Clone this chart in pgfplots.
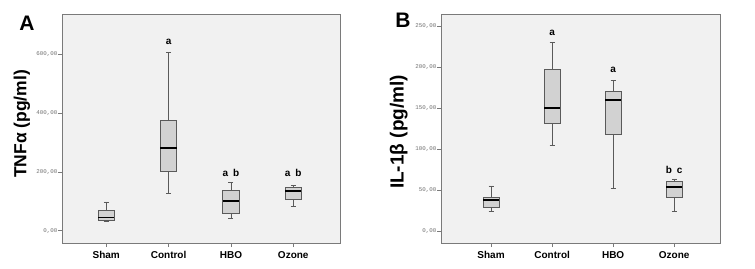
\documentclass[border=0pt]{standalone}
\usepackage{fontspec}
\setmainfont{Liberation Sans}
\newfontfamily\monofont{Liberation Mono}
\usepackage{pgfplots}
\pgfplotsset{compat=1.18}
\usepgfplotslibrary{statistics}

\definecolor{plotbg}{HTML}{F1F1F1}
\definecolor{boxfill}{HTML}{D2D2D2}
\definecolor{framegray}{HTML}{7A7A7A}
\definecolor{boxline}{HTML}{5A5A5A}
\definecolor{ticktext}{HTML}{707070}

\pgfplotsset{
  panel/.style={
    scale only axis, width=278pt, height=229pt,
    anchor=south west,
    axis background/.style={fill=plotbg},
    axis line style={framegray, line width=0.9pt},
    xtick={1,2,3,4}, xticklabels={Sham,Control,HBO,Ozone},
    xticklabel style={font=\bfseries\fontsize{10}{12}\selectfont, yshift=-1pt},
    yticklabel style={font=\monofont\fontsize{5.8}{7}\selectfont, text=ticktext, inner xsep=0.5pt},
    tick align=outside, tick pos=left,
    major tick length=4pt, tick style={framegray, line width=0.8pt},
    ylabel style={anchor=center},
    boxplot/draw direction=y,
    boxplot/box extend=0.26,
    boxplot/whisker extend=0.08,
    boxplot/every median/.style={draw=black, line width=1.6pt},
  },
  grp/.style={boxline, fill=boxfill, line width=0.7pt, solid},
}

\begin{document}
\begin{tikzpicture}
\useasboundingbox (0,0) rectangle (755pt,268pt);

% panel A
\begin{axis}[panel, at={(62pt,25pt)},
  xmin=0.29, xmax=4.75, ymin=-42, ymax=738,
  ytick={0,200,400,600}, yticklabels={{0,00},{200,00},{400,00},{600,00}},
  ylabel={TNFα (pg/ml)},
  ylabel style={font=\bfseries\fontsize{17.5}{20}\selectfont, at={(axis description cs:-0.144,0.52)}},
]
\addplot[grp, boxplot prepared={draw position=1, lower whisker=32, lower quartile=34, median=45, upper quartile=68, upper whisker=98}] coordinates {};
\addplot[grp, boxplot prepared={draw position=2, lower whisker=126, lower quartile=202, median=282, upper quartile=377, upper whisker=608}] coordinates {};
\addplot[grp, boxplot prepared={draw position=3, lower whisker=41, lower quartile=59, median=102, upper quartile=136, upper whisker=164}] coordinates {};
\addplot[grp, boxplot prepared={draw position=4, lower whisker=82, lower quartile=108, median=136, upper quartile=147, upper whisker=153}] coordinates {};
\node[font=\bfseries\fontsize{10}{12}\selectfont] at (axis cs:2,644) {a};
\node[font=\bfseries\fontsize{10}{12}\selectfont] at (axis cs:3,198) {a\hspace{5pt}b};
\node[font=\bfseries\fontsize{10}{12}\selectfont] at (axis cs:4,195) {a\hspace{5pt}b};
\end{axis}

% panel B
\begin{axis}[panel, at={(441pt,25pt)}, width=279pt,
  xmin=0.18, xmax=4.75, ymin=-14.7, ymax=264.7,
  ytick={0,50,100,150,200,250}, yticklabels={{0,00},{50,00},{100,00},{150,00},{200,00},{250,00}},
  ylabel={IL-1β (pg/ml)},
  ylabel style={font=\bfseries\fontsize{19}{22}\selectfont, at={(axis description cs:-0.151,0.485)}},
]
\addplot[grp, boxplot prepared={draw position=1, lower whisker=24, lower quartile=29, median=38, upper quartile=41.5, upper whisker=55}] coordinates {};
\addplot[grp, boxplot prepared={draw position=2, lower whisker=104, lower quartile=131, median=150, upper quartile=197.5, upper whisker=230}] coordinates {};
\addplot[grp, boxplot prepared={draw position=3, lower whisker=51.7, lower quartile=117.7, median=159.6, upper quartile=170.6, upper whisker=184}] coordinates {};
\addplot[grp, boxplot prepared={draw position=4, lower whisker=23.6, lower quartile=41.5, median=53.7, upper quartile=60, upper whisker=63.5}] coordinates {};
\node[font=\bfseries\fontsize{10}{12}\selectfont] at (axis cs:2,242) {a};
\node[font=\bfseries\fontsize{10}{12}\selectfont] at (axis cs:3,196) {a};
\node[font=\bfseries\fontsize{10}{12}\selectfont] at (axis cs:4,75) {b\hspace{5pt}c};
\end{axis}

\node[font=\bfseries\fontsize{21}{24}\selectfont] at (27pt,245pt) {A};
\node[font=\bfseries\fontsize{21}{24}\selectfont] at (403pt,248pt) {B};
\end{tikzpicture}
\end{document}
